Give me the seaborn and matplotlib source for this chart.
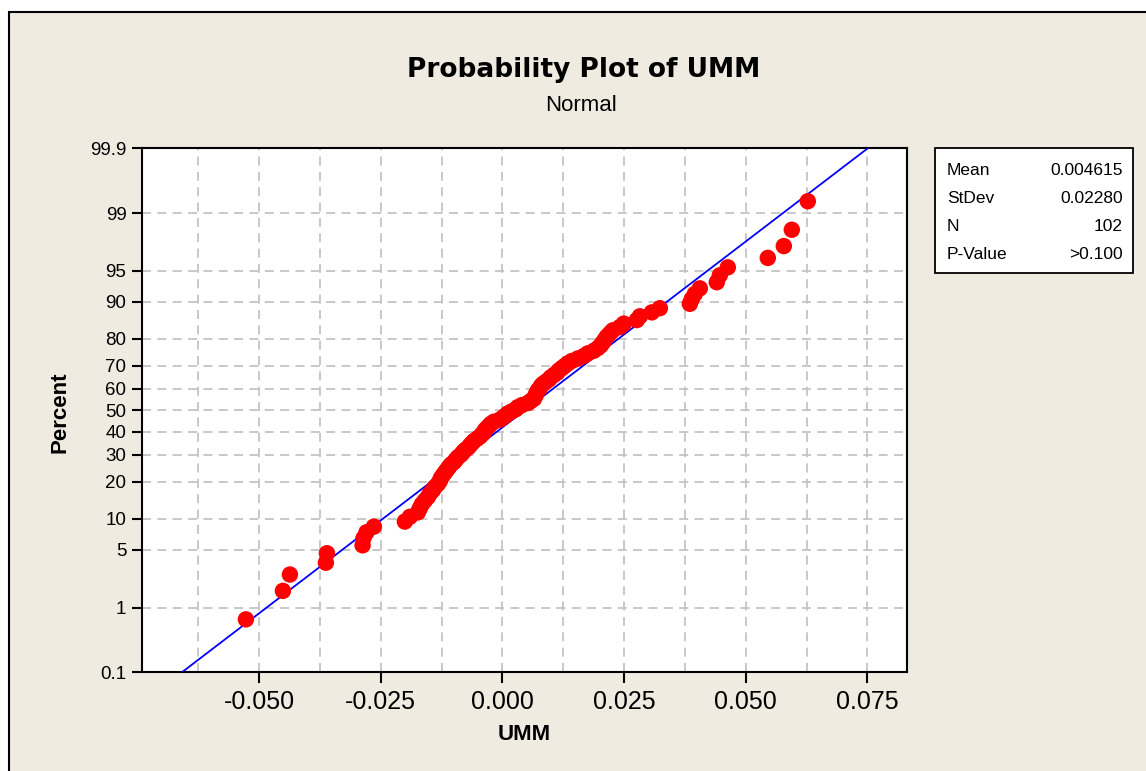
import matplotlib
matplotlib.use("Agg")
import numpy as np
import pandas as pd
import seaborn as sns
import matplotlib.pyplot as plt
from matplotlib.patches import Rectangle
from statistics import NormalDist

umm = [
    -0.05269, -0.04509, -0.04365, -0.03626, -0.03605, -0.02872, -0.02855, -0.02790, -0.02640, -0.02003,
    -0.01900, -0.01736, -0.01695, -0.01654, -0.01592, -0.01530, -0.01489, -0.01428, -0.01387, -0.01325,
    -0.01284, -0.01263, -0.01222, -0.01181, -0.01140, -0.01099, -0.01058, -0.00996, -0.00955, -0.00914,
    -0.00853, -0.00811, -0.00770, -0.00709, -0.00668, -0.00627, -0.00585, -0.00524, -0.00462, -0.00421,
    -0.00380, -0.00360, -0.00318, -0.00277, -0.00236, -0.00175, -0.00051, 0.00010, 0.00072, 0.00113,
    0.00195, 0.00277, 0.00318, 0.00401, 0.00524, 0.00585, 0.00647, 0.00668, 0.00688, 0.00709,
    0.00729, 0.00770, 0.00791, 0.00832, 0.00894, 0.00955, 0.00996, 0.01058, 0.01120, 0.01161,
    0.01222, 0.01284, 0.01346, 0.01428, 0.01551, 0.01674, 0.01756, 0.01880, 0.01962, 0.02023,
    0.02065, 0.02106, 0.02147, 0.02208, 0.02270, 0.02414, 0.02496, 0.02763, 0.02825, 0.03071,
    0.03236, 0.03852, 0.03893, 0.03955, 0.04057, 0.04406, 0.04468, 0.04632, 0.05454, 0.05783,
    0.05947, 0.06276,
]
mean_val = 0.004615
stdev_val = 0.02280
n_val = 102
p_value_text = ">0.100"

stat_names = ["Mean", "StDev", "N", "P-Value"]
stat_values = ["0.004615", "0.02280", "102", ">0.100"]

percent_ticks = [0.1, 1, 5, 10, 20, 30, 40, 50, 60, 70, 80, 90, 95, 99, 99.9]
percent_labels = ["0.1", "1", "5", "10", "20", "30", "40", "50", "60", "70", "80", "90", "95", "99", "99.9"]
x_ticks = [-0.050, -0.025, 0.000, 0.025, 0.050, 0.075]
x_labels = ["-0.050", "-0.025", "0.000", "0.025", "0.050", "0.075"]

# ---------------- derived (probability-plot positions) ----------------
nd = NormalDist()
vals = sorted(umm)
n = len(vals)
z_pts = [nd.inv_cdf((i - 0.3) / (n + 0.4)) for i in range(1, n + 1)]
df_pts = pd.DataFrame({"UMM": vals, "z": z_pts})

z_lo = nd.inv_cdf(0.001)
z_hi = nd.inv_cdf(0.999)
df_line = pd.DataFrame({"z": [z_lo, z_hi]})
df_line["UMM"] = mean_val + stdev_val * df_line["z"]

# ---------------- figure ----------------
sns.set_style("white")
plt.rcParams["font.family"] = ["DejaVu Sans"]
plt.rcParams["text.color"] = "black"
plt.rcParams["xtick.color"] = "black"
plt.rcParams["ytick.color"] = "black"
plt.rcParams["axes.labelcolor"] = "black"
W, H = 1146, 771
fig = plt.figure(figsize=(W / 100, H / 100), dpi=100, facecolor="white")

BG = "#EFEBE1"
fig.add_artist(Rectangle((8.5 / W, -0.05), 1.2, 1 + 0.05 - 12.5 / H, transform=fig.transFigure,
                         facecolor=BG, edgecolor="black", linewidth=1.5, zorder=0))

L, R, T, B = 141.7, 907.3, 148.3, 672.3
ax = fig.add_axes([L / W, 1 - B / H, (R - L) / W, (B - T) / H])
ax.set_facecolor("white")

xlim = (-0.0741, 0.0832)
ax.set_xlim(*xlim)
ax.set_ylim(z_lo, z_hi)

# grid
grid_kw = dict(color="#C4C4C4", linewidth=1.3, linestyle=(0, (5, 3.5)), zorder=1)
for gx in np.arange(-0.0625, 0.0801, 0.0125):
    ax.axvline(gx, **grid_kw)
for p in percent_ticks[1:-1]:
    ax.axhline(nd.inv_cdf(p / 100), **grid_kw)

sns.lineplot(data=df_line, x="UMM", y="z", ax=ax, color="#0000FF", linewidth=1.3,
             sort=False, zorder=3, legend=False)
sns.scatterplot(data=df_pts, x="UMM", y="z", ax=ax, color="#FF0000", s=140,
                edgecolor="none", linewidth=0, zorder=4, legend=False)

ax.set_xlabel("")
ax.set_ylabel("")
ax.set_xticks(x_ticks)
ax.set_xticklabels(x_labels, fontfamily="Liberation Sans", fontsize=18, color="black")
ax.set_yticks([nd.inv_cdf(p / 100) for p in percent_ticks])
ax.set_yticklabels(percent_labels, fontfamily="Liberation Sans", fontsize=13.5, color="black")
ax.tick_params(axis="x", direction="out", length=8, width=1.5, pad=5, color="black", bottom=True)
ax.tick_params(axis="y", direction="out", length=7, width=1.5, pad=4, color="black", left=True)
for s in ax.spines.values():
    s.set_color("black")
    s.set_linewidth(1.5)
    s.set_visible(True)

# titles and labels
fig.text(584 / W, 1 - 77 / H, "Probability Plot of UMM", ha="center", va="baseline",
         fontsize=19, fontweight="bold", family="DejaVu Sans", color="black")
fig.text(581 / W, 1 - 111 / H, "Normal", ha="center", va="baseline",
         fontsize=16, family="Liberation Sans", color="black")
fig.text(60 / W, 1 - 412 / H, "Percent", ha="center", va="center", rotation=90,
         fontsize=16, fontweight="bold", family="Liberation Sans", color="black")
fig.text(524 / W, 1 - 735 / H, "UMM", ha="center", va="center",
         fontsize=16, fontweight="bold", family="Liberation Sans", color="black")

# stats box
bx0, bx1, by0, by1 = 935, 1133, 148, 273
fig.add_artist(Rectangle((bx0 / W, 1 - by1 / H), (bx1 - bx0) / W, (by1 - by0) / H,
                         transform=fig.transFigure, facecolor="white", edgecolor="black",
                         linewidth=1.3, zorder=5))
row_y = [175, 203, 231, 259]
for name, val, yy in zip(stat_names, stat_values, row_y):
    fig.text(947 / W, 1 - yy / H, name, ha="left", va="baseline", fontsize=12.5,
             family="Liberation Sans", color="black", zorder=6)
    fig.text(1123 / W, 1 - yy / H, val, ha="right", va="baseline", fontsize=12.5,
             family="Liberation Sans", color="black", zorder=6)

fig.savefig("out.png", dpi=100, facecolor=fig.get_facecolor())
